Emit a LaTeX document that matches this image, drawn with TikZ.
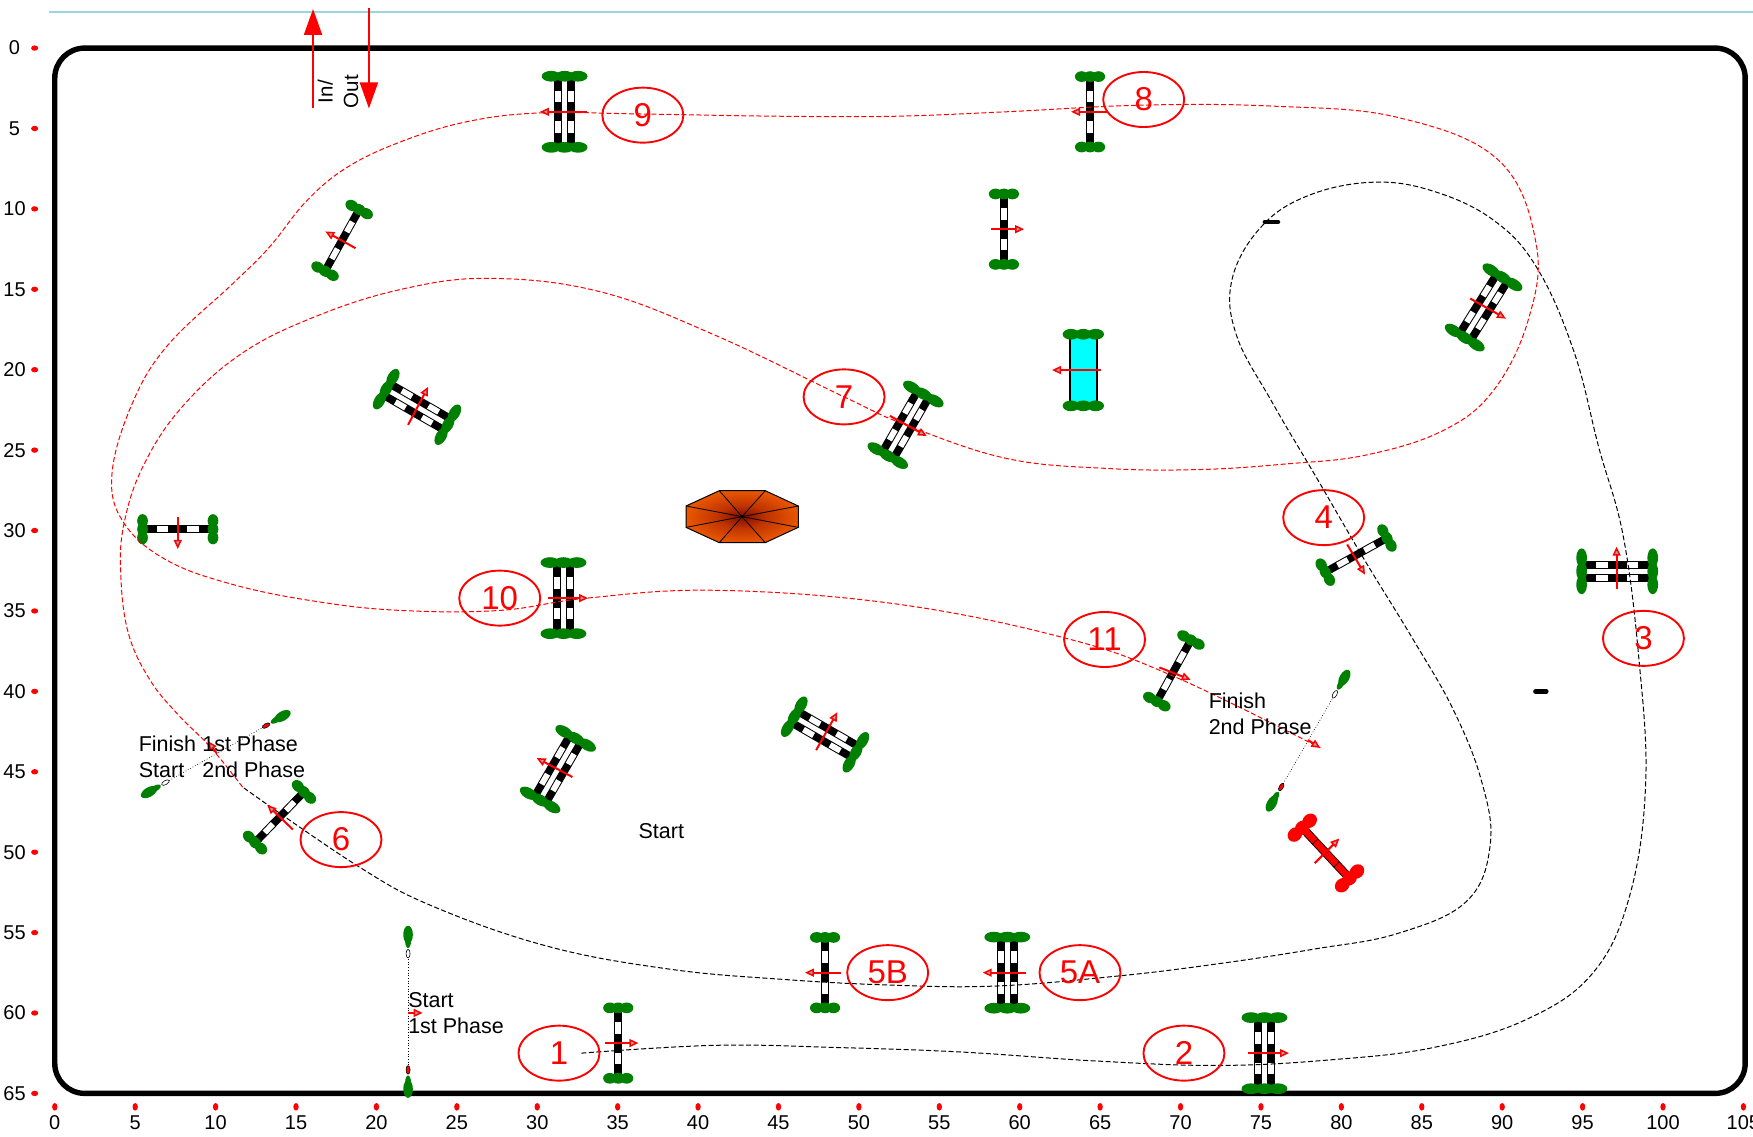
\documentclass[tikz,border=0pt]{standalone}
\usepackage{fontspec}
\setmainfont{Liberation Sans}
\usetikzlibrary{arrows.meta,shapes.geometric}
\definecolor{jgreen}{HTML}{008000}
\definecolor{skyline}{HTML}{9AD6E2}
\definecolor{wcyan}{HTML}{00FFFF}
\definecolor{octin}{HTML}{800C00}
\definecolor{octa}{HTML}{C03400}
\definecolor{octb}{HTML}{E65400}
\definecolor{octout}{HTML}{FF6A00}
\pgfdeclareradialshading{octoshade}{\pgfpoint{0bp}{0bp}}{color(0bp)=(octin);color(11bp)=(octa);color(24bp)=(octb);color(46bp)=(octout);color(100bp)=(octout)}
\newcommand{\jumpbar}[1]{%
  \fill[black] ({#1-3.5},-29) rectangle ({#1+3.5},29);
  \fill[white] ({#1-2.6},-19) rectangle ({#1+2.6},-8.5);
  \fill[white] ({#1-2.6},8.5) rectangle ({#1+2.6},19);
}
\tikzset{
  ticklabel/.style={inner sep=0pt,font=\fontsize{20}{24}\selectfont},
  tickdot/.style={fill=red,draw=none},
  txt/.style={inner sep=0pt,anchor=west,align=left,font=\fontsize{21.5}{25.7}\selectfont},
  num/.style={draw=red,line width=1.9pt,text=red,ellipse,inner sep=0pt,minimum width=81pt,minimum height=55pt,font=\fontsize{33}{33}\selectfont},
  blackpath/.style={draw=black,line width=1pt,dash pattern=on 5pt off 2.5pt},
  redpath/.style={draw=red,line width=1pt,dash pattern=on 5pt off 2.5pt},
  dir/.style={draw=red,line width=2pt,-{Triangle[length=9pt,width=8pt,fill=gray!70!white,line width=1.5pt]}},
  big/.style={draw=red,line width=2pt,-{Triangle[length=26pt,width=18pt,fill=red]}},
  blob/.style={fill=jgreen,draw=none},
  pics/singlejump/.style={code={
    \jumpbar{0}
    \foreach \s in {-31.5,31.5}{\foreach \o in {-7.5,0,7.5}{\fill[blob] (\o,\s) ellipse (6 and 4.8);}}
  }},
  pics/doublejump/.style={code={
    \jumpbar{-5.8}
    \jumpbar{5.8}
    \foreach \s in {-31.8,31.8}{\foreach \o in {-12,0,12}{\fill[blob] (\o,\s) ellipse (8.5 and 4.8);}}
  }},
  pics/redjump/.style={code={
    \fill[red,draw=black,line width=0.7pt] (-3.5,-29) rectangle (3.5,29);
    \draw[black,line width=0.7pt] (-3.5,-14)--(3.5,-14) (-3.5,0)--(3.5,0) (-3.5,14)--(3.5,14);
    \foreach \s in {-31,31}{\foreach \o in {-9,0,9}{\fill[red] (\o,\s) ellipse (7 and 6);}}
  }},
  pics/waterjump/.style={code={
    \fill[wcyan,draw=black,line width=2pt] (-12.2,-31) rectangle (12.2,31);
    \foreach \s in {-32,32}{\foreach \o in {-11,0,11}{\fill[blob] (\o,\s) ellipse (7.5 and 4.8);}}
  }},
  pics/startflag/.style={code={
    \fill[jgreen] (0,-11) ellipse (2.6 and 6);
    \fill[jgreen] (0,-17) ellipse (4.3 and 8);
    \draw[black,line width=0.6pt,fill=#1] (0,0) ellipse (1.8 and 3.8);
  }},
}
\begin{document}
\begin{tikzpicture}[x=1.118pt,y=-1.118pt]
\useasboundingbox (0,0) rectangle (1568,1017);
% top line and ring
\draw[skyline,line width=1.6pt] (44,11) -- (1568,11);
\draw[black,line width=5.4pt,rounded corners=30pt] (49,43) rectangle (1561,978);
% scales
\foreach \v in {0,5,...,65}{
  \fill[tickdot] (31,{43+14.385*\v}) ellipse (3.2 and 2.4);
  \node[ticklabel] (yl\v) at (13,{43+14.385*\v}) {\v};
}
\foreach \v in {0,5,...,105}{
  \fill[tickdot] ({49+14.385*\v},990) ellipse (2.4 and 3.4);
  \node[ticklabel] (xl\v) at ({49+14.385*\v},1004) {\v};
}
% in / out
\coordinate (inA) at (280,97); \coordinate (inB) at (280,8);
\coordinate (outA) at (330,7); \coordinate (outB) at (330,97);
\draw[big] (inA) -- (inB);
\draw[big] (outA) -- (outB);
\node[inner sep=0pt,rotate=90,font=\fontsize{20.5}{24}\selectfont] (inlab) at (291,82) {In/};
\node[inner sep=0pt,rotate=90,font=\fontsize{20.5}{24}\selectfont] (outlab) at (314,82) {Out};
% octagon
\path[shading=octoshade]
  (613.6,452.6)--(643.4,438.9)--(684.5,438.9)--(714,452.6)--(714,471.7)--(684.5,485.4)--(643.4,485.4)--(613.6,471.7)--cycle;
\draw[black,line width=1pt]
  (613.6,452.6)--(643.4,438.9)--(684.5,438.9)--(714,452.6)--(714,471.7)--(684.5,485.4)--(643.4,485.4)--(613.6,471.7)--cycle;
\foreach \p in {(613.6,452.6),(643.4,438.9),(684.5,438.9),(714,452.6),(714,471.7),(684.5,485.4),(643.4,485.4),(613.6,471.7)}
  \draw[black,line width=0.8pt] (663.7,462.1) -- \p;
% jumps
\pic at (553,933) {singlejump};
\pic at (1131,942) {doublejump};
\pic[rotate=90] at (1446.5,511) {doublejump};
\pic[rotate=-61] at (1213,496.5) {singlejump};
\pic at (901,870) {doublejump};
\pic at (738,870) {singlejump};
\pic[rotate=-44] at (250,731) {singlejump};
\pic[rotate=-30] at (810,380) {doublejump};
\pic at (975,100) {singlejump};
\pic at (505,100) {doublejump};
\pic at (504,535) {doublejump};
\pic[rotate=-29] at (1050,600) {singlejump};
\pic at (898,205) {singlejump};
\pic at (969,331) {waterjump};
\pic[rotate=-32] at (1327,275) {doublejump};
\pic[rotate=-29] at (306,215) {singlejump};
\pic[rotate=60] at (373,364) {doublejump};
\pic[rotate=90] at (159,473.4) {singlejump};
\pic[rotate=-30] at (499,688) {doublejump};
\pic[rotate=60] at (738,657) {doublejump};
\pic[rotate=43] at (1186,763) {redjump};
% phase gates
\coordinate (g1a) at (365,853); \coordinate (g1b) at (365,957);
\coordinate (g2a) at (238,649); \coordinate (g2b) at (148,700);
\coordinate (g3a) at (1194,621); \coordinate (g3b) at (1146,704);
\draw[black,line width=0.7pt,dotted] (g1a)--(g1b);
\draw[black,line width=0.7pt,dotted] (g2a)--(g2b);
\draw[black,line width=0.7pt,dotted] (g3a)--(g3b);
\pic at (g1a) {startflag=white};
\pic[rotate=180] at (g1b) {startflag=red};
\pic[rotate=-60] at (g2a) {startflag=red};
\pic[rotate=120] at (g2b) {startflag=white};
\pic[rotate=-30] at (g3a) {startflag=white};
\pic[rotate=150] at (g3b) {startflag=red};
% small black marks
\draw[black,line width=4.8pt,line cap=round] (1131.5,198.5) -- (1143,198.5);
\draw[black,line width=4.8pt,line cap=round] (1373.5,618.5) -- (1383,618.5);
% course
\draw[blackpath] plot[smooth,tension=0.65] coordinates {
 (520,942) (640,935) (750,937) (860,941) (980,949) (1090,953) (1190,948) (1282,937) (1365,912) (1425,870)
 (1458,800) (1472,700) (1466,590) (1452,480) (1430,400) (1408,315) (1375,240) (1336,197) (1282,171)
 (1228,163) (1170,175) (1128,203) (1102,250) (1106,300) (1138,360) (1178,428) (1220,500) (1264,572)
 (1300,635) (1325,698) (1333,755) (1312,806) (1250,835) (1175,849) (1090,862) (1000,873) (890,882)
 (794,881) (700,876) (600,867) (492,847) (388,811) (319,774) (217,704)};
\draw[redpath] plot[smooth,tension=0.65] coordinates {
 (217,704) (188,668) (160,640) (134,608) (114.7,566) (108,513) (111,468) (128,417) (162,365) (215,317)
 (280,284) (358,259) (438,249) (537,261) (640,300) (755,355) (810,380) (900,410) (990,419) (1073,420)
 (1150,415) (1222,407) (1291,385) (1336,349) (1367,286) (1374,218) (1340,143) (1250,105) (1140,95)
 (1023,94) (900,100) (800,104) (700,104) (575,102) (483,101) (417,109) (358,127) (310,150) (274,180)
 (241,221) (209,253) (149,310) (117,364) (100,426) (111,468) (149,501) (209,523) (283,538) (358,546)
 (447,546) (525,535) (640,528) (800,540) (950,570) (1050,605) (1181,669)};
% direction arrows
\draw[dir] (541,933) -- (571,933);
\draw[dir] (1116,942) -- (1153,942);
\draw[dir] (1446,527) -- (1446,489);
\draw[dir] (1205,487) -- (1221,514);
\draw[dir] (918,870) -- (879,870);
\draw[dir] (752,870) -- (720,870);
\draw[dir] (262,742) -- (239,720);
\draw[dir] (796,372) -- (829,390);
\draw[dir] (990,100) -- (958,100);
\draw[dir] (525,100) -- (483,100);
\draw[dir] (490,535) -- (526,535);
\draw[dir] (1037,597) -- (1065,608);
\draw[dir] (886,205) -- (916,205);
\draw[dir] (985,331) -- (941,331);
\draw[dir] (1315,267) -- (1347,285);
\draw[dir] (318,222) -- (291,207);
\draw[dir] (365,380) -- (383,346);
\draw[dir] (159,462) -- (159,491);
\draw[dir] (512,695) -- (480,678);
\draw[dir] (730,671) -- (749,637);
\draw[dir] (1176,772) -- (1198,750);
\draw[dir] (365,906) -- (378,906);
\draw[dir] (194,674) -- (186,663);
\draw[dir] (1170,662) -- (1181,669);
% numbers
\node[num] (n1) at (500,942) {1};
\node[num] (n2) at (1059,942) {2};
\node[num] (n3) at (1470,571) {3};
\node[num] (n4) at (1184,463) {4};
\node[num] (n5a) at (966,870) {5A};
\node[num] (n5b) at (794,870) {5B};
\node[num] (n6) at (305,751) {6};
\node[num] (n7) at (755,355) {7};
\node[num] (n8) at (1023,89) {8};
\node[num] (n9) at (575,103) {9};
\node[num] (n10) at (447,535) {10};
\node[num] (n11) at (988,572) {11};
% texts
\node[txt] (tstart) at (571,743) {Start};
\node[txt] (tp1) at (365,906) {Start\\1st Phase};
\node[txt] (tp2) at (124,677) {\makebox[63.5pt][l]{Finish}1st Phase\\\makebox[63.5pt][l]{Start}2nd Phase};
\node[txt] (tp3) at (1081,638.5) {Finish\\2nd Phase};
\end{tikzpicture}
\end{document}
